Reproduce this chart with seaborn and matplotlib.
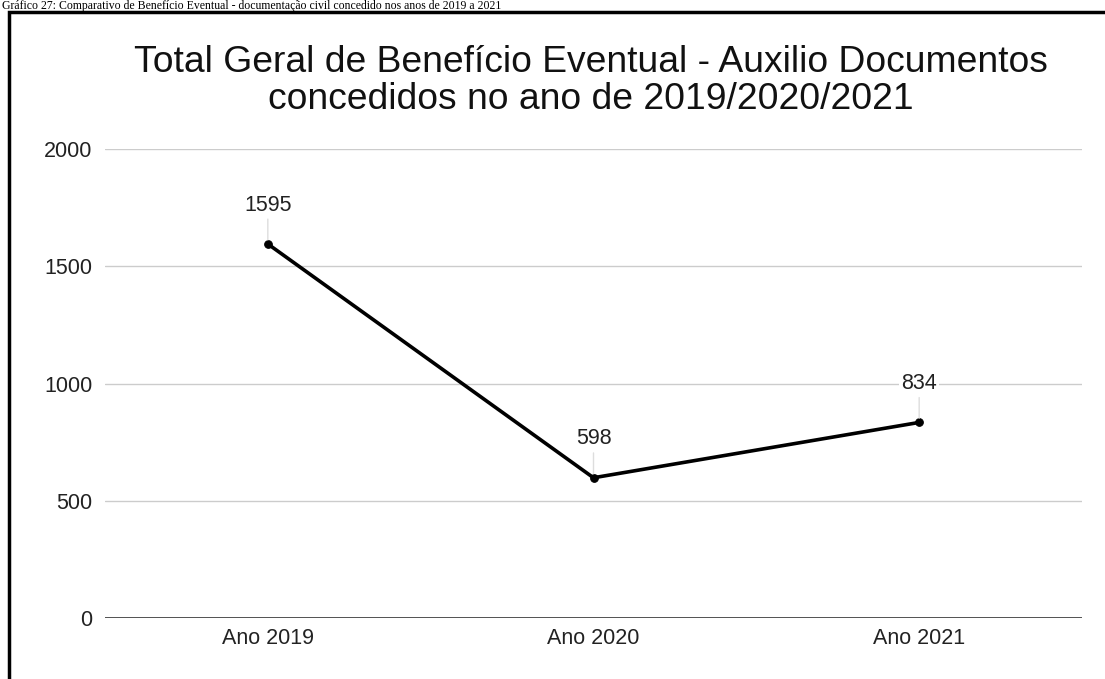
import matplotlib
matplotlib.use("Agg")
import matplotlib.pyplot as plt
import seaborn as sns
import pandas as pd
from matplotlib.patches import Rectangle

categories = ["Ano 2019", "Ano 2020", "Ano 2021"]
values = [1595, 598, 834]
yticks = [0, 500, 1000, 1500, 2000]
title = "Total Geral de Benefício Eventual - Auxilio Documentos\nconcedidos no ano de 2019/2020/2021"
caption = "Gráfico 27: Comparativo de Benefício Eventual - documentação civil concedido nos anos de 2019 a 2021"

sns.set_theme(style="white")
plt.rcParams['font.family'] = ['Liberation Sans', 'DejaVu Sans']

W, H = 1105, 679
fig = plt.figure(figsize=(W / 100, H / 100), dpi=100)
ax = fig.add_axes([105 / W, 1 - 618 / H, (1082 - 105) / W, (618 - 149) / H])

df = pd.DataFrame({"cat": categories, "val": values})
df["x"] = range(len(categories))
sns.lineplot(data=df, x="x", y="val", ax=ax, color="black", linewidth=2.6,
             marker="o", markersize=5.5, markeredgecolor="black", zorder=5)

ax.set_xlim(-0.5, len(categories) - 0.5)
ax.set_ylim(0, 2000)
ax.set_yticks(yticks)
ax.set_yticklabels([str(t) for t in yticks], fontsize=15.5, color="#222222")
ax.set_xticks(range(len(categories)))
ax.set_xticklabels(categories, fontsize=15.5, color="#222222")
ax.set_xlabel("")
ax.set_ylabel("")
ax.tick_params(axis="y", length=0, pad=9)
ax.tick_params(axis="x", length=0, pad=7)
for t in yticks[1:]:
    ax.axhline(t, color="#cccccc", linewidth=1, zorder=0)
ax.axhline(0, color="#444444", linewidth=1.3, zorder=1)
for s in ax.spines.values():
    s.set_visible(False)

for i, v in enumerate(values):
    ax.annotate(str(v), xy=(i, v), xytext=(0, 28), textcoords="offset points",
                ha="center", va="center", fontsize=15.5, color="#222222",
                bbox=dict(boxstyle="square,pad=0.1", fc="white", ec="none"),
                arrowprops=dict(arrowstyle="-", color="#dddddd", lw=1,
                                shrinkA=1, shrinkB=3),
                zorder=6)

fig.text(591 / W, 1 - 81 / H, title, ha="center", va="center", fontsize=26.8,
         color="#111111", linespacing=1.1)

# frame and caption above it
fig.patches.append(Rectangle((9 / W, -0.05), 1.2, 1 - 12 / H + 0.05,
                             transform=fig.transFigure, fill=False,
                             edgecolor="black", linewidth=2.5))
fig.text(2 / W, 1 - 9.5 / H, caption, ha="left", va="baseline", fontsize=8.5,
         family=["Liberation Serif"], color="black")

fig.savefig("out.png", dpi=100)
